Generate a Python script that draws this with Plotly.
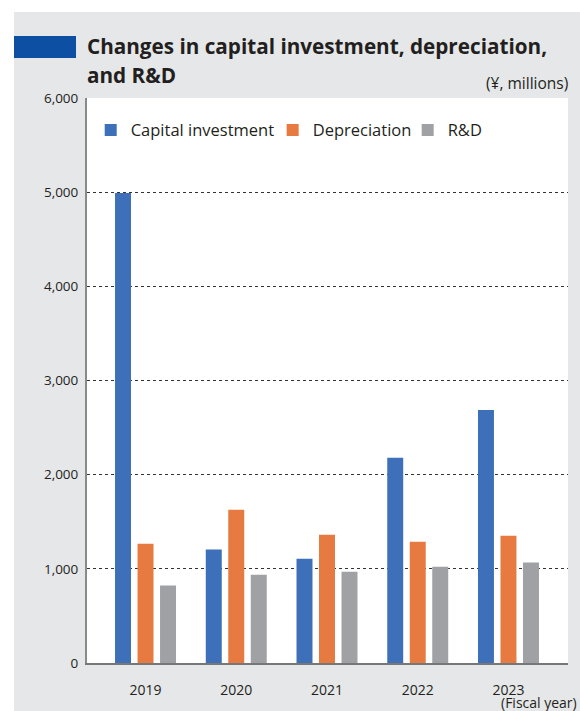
import plotly.graph_objects as go

years = ["2019", "2020", "2021", "2022", "2023"]
capital_investment = [4990, 1204, 1108, 2179, 2688]
depreciation = [1267, 1628, 1363, 1288, 1352]
rnd = [822, 938, 970, 1023, 1066]
y_ticks = [0, 1000, 2000, 3000, 4000, 5000, 6000]

FONT = "Open Sans"
TXT = "#231f20"

fig = go.Figure()
fig.add_bar(name="Capital investment", x=years, y=capital_investment, marker_color="#3d70b8",
            marker_line_width=0, legend="legend")
fig.add_bar(name="Depreciation", x=years, y=depreciation, marker_color="#e67a40",
            marker_line_width=0, legend="legend2")
fig.add_bar(name="R&D", x=years, y=rnd, marker_color="#a0a1a4",
            marker_line_width=0, legend="legend3")

W, H = 580, 711
L, R, T, B = 87, 12, 98, 48

shapes = [
    # gray panel
    dict(type="rect", xref="paper", yref="paper", xsizemode="pixel", ysizemode="pixel",
         xanchor=0, yanchor=1, x0=-73, x1=W - L, y0=-(H - T) - 5, y1=T - 12,
         fillcolor="#e6e7e9", line_width=0, layer="below"),
    # white plot area
    dict(type="rect", xref="paper", yref="paper", x0=0, x1=1, y0=0, y1=1,
         fillcolor="white", line_width=0, layer="below"),
    # blue title marker
    dict(type="rect", xref="paper", yref="paper", xsizemode="pixel", ysizemode="pixel",
         xanchor=0, yanchor=1, x0=-73, x1=-11, y0=T - 58, y1=T - 36,
         fillcolor="#0d4fa2", line_width=0, layer="below"),
]

annotations = [
    dict(text="<b>Changes in capital investment, depreciation,</b>", xref="paper", yref="paper",
         x=0, y=1, xanchor="left", yanchor="middle", xshift=-2, yshift=T - 46, showarrow=False,
         font=dict(family=FONT, size=20.7, color=TXT)),
    dict(text="<b>and R&D</b>", xref="paper", yref="paper",
         x=0, y=1, xanchor="left", yanchor="middle", xshift=-2, yshift=T - 75, showarrow=False,
         font=dict(family=FONT, size=20.7, color=TXT)),
    dict(text="(¥, millions)", xref="paper", yref="paper",
         x=1, y=1, xanchor="right", yanchor="middle", xshift=2, yshift=T - 83, showarrow=False,
         font=dict(family=FONT, size=15.5, color=TXT)),
    dict(text="(Fiscal year)", xref="paper", yref="paper",
         x=1, y=0, xanchor="right", yanchor="middle", xshift=11, yshift=-(702 - (H - B)), showarrow=False,
         font=dict(family=FONT, size=14, color=TXT)),
]

leg_common = dict(orientation="h", y=0.943, xanchor="left", yanchor="middle",
                  bgcolor="rgba(0,0,0,0)", font=dict(family=FONT, size=16.5, color=TXT))

fig.update_layout(
    width=W, height=H,
    margin=dict(l=L, r=R, t=T, b=B, autoexpand=False),
    paper_bgcolor="white", plot_bgcolor="rgba(0,0,0,0)",
    barmode="group", bargap=0.256, bargroupgap=0.29,
    font=dict(family=FONT, size=14, color=TXT),
    shapes=shapes, annotations=annotations,
    showlegend=True,
    legend=dict(x=0.0077, **leg_common),
    legend2=dict(x=0.386, **leg_common),
    legend3=dict(x=0.6667, **leg_common),
)
fig.update_xaxes(type="category", range=[-0.645, 4.656], showline=True, linecolor="#777777",
                 linewidth=2, showgrid=False, ticks="", ticklabelstandoff=13,
                 tickfont=dict(family=FONT, size=14, color=TXT), fixedrange=True)
fig.update_yaxes(range=[0, 6000], tickvals=y_ticks, tickformat=",d", showline=True,
                 linecolor="#8a8a8a", linewidth=2, showgrid=True, gridcolor="#333333",
                 gridwidth=1, griddash="3px,3px", zeroline=False, ticks="",
                 ticklabelstandoff=4, tickfont=dict(family=FONT, size=13.5, color=TXT), fixedrange=True)

fig.write_html("out.html")
